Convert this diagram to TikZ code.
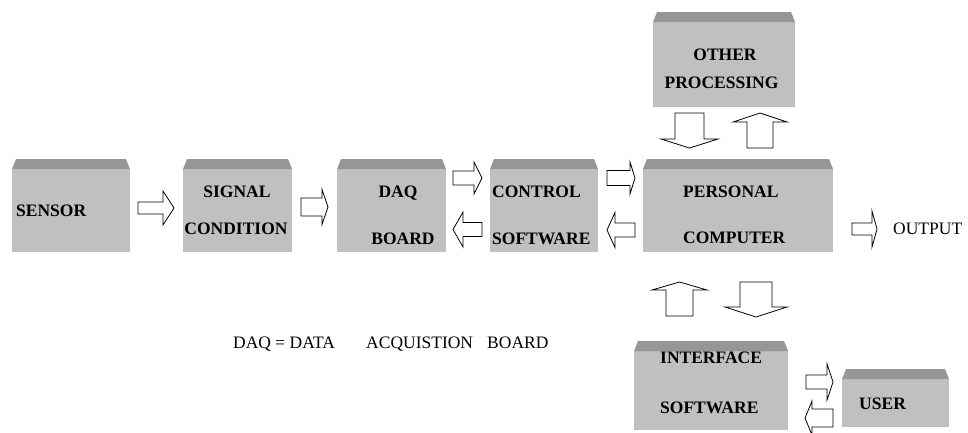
\documentclass[tikz,border=0pt]{standalone}
\usepackage{fontspec}
\setmainfont{Liberation Serif}
\definecolor{boxbody}{RGB}{192,192,192}
\definecolor{boxtop}{RGB}{150,150,150}
\tikzset{
  bodybox/.style={fill=boxbody, draw=none, inner sep=0pt, outer sep=0pt},
  topband/.style={fill=boxtop},
  blk/.style={draw=black, fill=white, line width=0.8pt, line join=miter},
  lbl/.style={font=\fontsize{17.5}{18}\selectfont\bfseries, inner sep=0pt, text height=11.6pt, text depth=0pt},
  plain/.style={font=\fontsize{17.5}{18}\selectfont, inner sep=0pt, text height=11.6pt, text depth=0pt},
}
% grey block with a darker bevelled band on top: name, x1, x2, y1, y2
\newcommand\blockbox[5]{%
  \node[bodybox, minimum width={(#3-#2)*1pt}, minimum height={(#5-#4)*1pt}] (#1) at ({(#2+#3)/2},{(#4+#5)/2}) {};
  \fill[topband] ([xshift=4pt,yshift=10pt]#1.north west) -- ([xshift=-4pt,yshift=10pt]#1.north east)
     -- (#1.north east) -- (#1.north west) -- cycle;}
% horizontal hollow arrow: tail x, head base x, tip x, centre y, shaft half, head half
\newcommand\harrow[6]{%
  \draw[blk] (#1,#4-#5) -- (#2,#4-#5) -- (#2,#4-#6) -- (#3,#4) -- (#2,#4+#6) -- (#2,#4+#5) -- (#1,#4+#5) -- cycle;}
% vertical hollow arrow: centre x, tail y, head base y, tip y, shaft half, head half
\newcommand\varrow[6]{%
  \draw[blk] (#1-#5,#2) -- (#1-#5,#3) -- (#1-#6,#3) -- (#1,#4) -- (#1+#6,#3) -- (#1+#5,#3) -- (#1+#5,#2) -- cycle;}
\begin{document}
\begin{tikzpicture}[x=1pt,y=-1pt]
\useasboundingbox (0,0) rectangle (968,432);

% blocks
\blockbox{sensor}{12}{130}{169}{252}
\blockbox{signal}{183}{292}{169}{252}
\blockbox{daq}{337}{446}{169}{252}
\blockbox{control}{490}{598}{169}{252}
\blockbox{pc}{643}{833}{169}{252}
\blockbox{other}{653}{795}{22}{107}
\blockbox{iface}{634}{788}{351}{430}
\blockbox{user}{842}{949}{379}{427}

% block labels
\node[lbl, anchor=west] (tsensor) at (16,211) {SENSOR};
\node[lbl] (tsignal) at (237,192) {SIGNAL};
\node[lbl] (tcond) at (236,229) {CONDITION};
\node[lbl] (tdaq) at (398,192) {DAQ};
\node[lbl] (tboard) at (403,239) {BOARD};
\node[lbl, anchor=west] (tcontrol) at (492,192) {CONTROL};
\node[lbl, anchor=west] (tcsoft) at (492,239) {SOFTWARE};
\node[lbl, anchor=west] (tpersonal) at (683,192) {PERSONAL};
\node[lbl, anchor=west] (tcomputer) at (683,238) {COMPUTER};
\node[lbl] (tother) at (725,55) {OTHER};
\node[lbl] (tproc) at (721.5,83) {PROCESSING};
\node[lbl, anchor=west] (tiface) at (660,358) {INTERFACE};
\node[lbl, anchor=west] (tisoft) at (660,408) {SOFTWARE};
\node[lbl, anchor=west] (tuser) at (859,404) {USER};

% plain text
\node[plain, anchor=west] (toutput) at (893,229) {OUTPUT};
\node[plain, anchor=west] (tdef1) at (233,343) {DAQ = DATA};
\node[plain, anchor=west] (tdef2) at (366,343) {ACQUISTION};
\node[plain, anchor=west] (tdef3) at (487,343) {BOARD};

% hollow arrows along the main chain
\harrow{138}{163}{174}{208}{6}{17}
\harrow{301}{322}{328}{207}{9}{17.5}
\harrow{453}{474}{482}{178}{7}{16}
\harrow{482}{463}{453}{229.5}{7}{17.5}
\harrow{607}{630}{635}{178}{7.5}{16}
\harrow{635}{615}{607}{230}{7}{17.5}
\harrow{852}{872}{877}{229}{6}{18}

% arrows to and from the other processing block
\varrow{689.5}{113}{139}{148}{14.5}{28.5}
\varrow{760}{148}{122}{113}{13}{27}

% arrows to and from the interface software
\varrow{679.5}{316}{290}{282}{13.5}{27.5}
\varrow{756}{282}{307}{317}{16}{31}

% arrows between interface software and user
\harrow{806}{827}{833}{382}{7}{18}
\harrow{833}{812}{805}{418}{9}{17}
\end{tikzpicture}
\end{document}
